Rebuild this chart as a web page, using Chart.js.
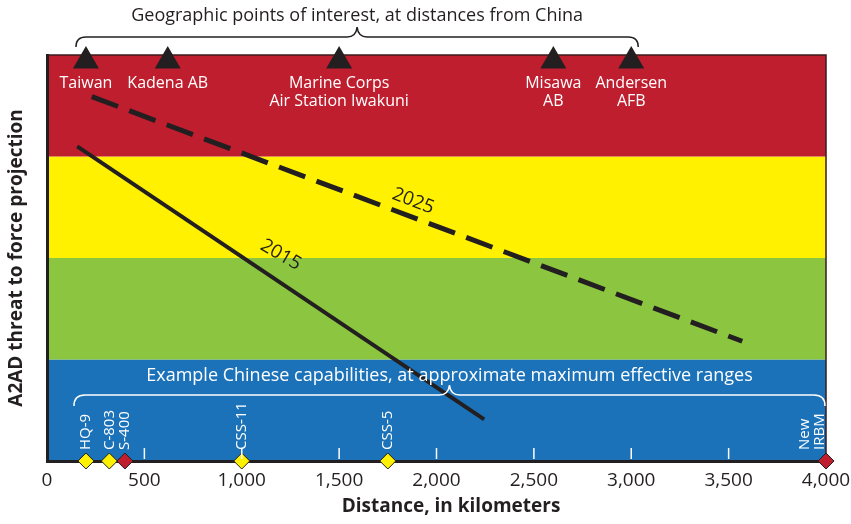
<!DOCTYPE html>
<html lang="en">
<head>
  <meta charset="UTF-8">
  <title>A2AD threat to force projection</title>
  <script src="https://cdn.jsdelivr.net/npm/chart.js"></script>
  <style>
    body { margin: 0; background: #fff; }
    .wrap { width: 851px; height: 524px; }
  </style>
</head>
<body>
  <div class="wrap"><canvas id="chart"></canvas></div>

  <script>
    // distances in km, threat level 0 (blue, low) .. 4 (red, high)
    const siteNames = ['Taiwan', 'Kadena AB', ['Marine Corps', 'Air Station Iwakuni'], ['Misawa', 'AB'], ['Andersen', 'AFB']];
    const siteKm = [200, 620, 1500, 2600, 3000];
    const weaponNames = ['HQ-9', 'C-803', 'S-400', 'CSS-11', 'CSS-5', ['New', 'IRBM']];
    const weaponKm = [200, 320, 400, 1000, 1750, 4000];
    const weaponIsNew = [false, false, true, false, false, true];
    const km2015 = [155, 2245];
    const threat2015 = [3.1, 0.41];
    const km2025 = [230, 3570];
    const threat2025 = [3.59, 1.18];
    const bandLevels = [0, 1, 2, 3, 4];

    const DARK = '#231f20';
    const FONT = "'Open Sans', sans-serif";
    const bandColors = ['#1b72b9', '#8cc640', '#fff100', '#bf1e2e'];

    function drawBrace(ctx, x0, x1, yLine, curl, peak) {
      const xm = (x0 + x1) / 2;
      ctx.beginPath();
      ctx.moveTo(x0, yLine + curl);
      ctx.quadraticCurveTo(x0, yLine, x0 + curl, yLine);
      ctx.lineTo(xm - peak, yLine);
      ctx.quadraticCurveTo(xm - 1, yLine, xm, yLine - peak);
      ctx.quadraticCurveTo(xm + 1, yLine, xm + peak, yLine);
      ctx.lineTo(x1 - curl, yLine);
      ctx.quadraticCurveTo(x1, yLine, x1, yLine + curl);
      ctx.stroke();
    }

    const overlay = {
      id: 'overlay',
      beforeDraw(chart) {
        const { ctx, chartArea: a, scales: { y } } = chart;
        for (let i = 0; i < 4; i++) {
          const top = y.getPixelForValue(bandLevels[i + 1]);
          const bot = y.getPixelForValue(bandLevels[i]);
          ctx.fillStyle = bandColors[i];
          ctx.fillRect(a.left, top, a.right - a.left, bot - top);
        }
        ctx.strokeStyle = '#3b1b1d';
        ctx.lineWidth = 1.5;
        ctx.strokeRect(a.left, a.top, a.right - a.left, a.bottom - a.top);
      },
      afterDraw(chart) {
        const { ctx, chartArea: a, scales: { x, y } } = chart;
        ctx.save();

        // small white ticks inside the plot
        ctx.strokeStyle = '#fff';
        ctx.lineWidth = 1.5;
        x.ticks.forEach(t => {
          if (t.value <= 0 || t.value >= 4000) return;
          const px = x.getPixelForValue(t.value);
          ctx.beginPath();
          ctx.moveTo(px, a.bottom - 13);
          ctx.lineTo(px, a.bottom - 2);
          ctx.stroke();
        });

        // top caption and brace
        ctx.fillStyle = DARK;
        ctx.strokeStyle = DARK;
        ctx.lineWidth = 1.5;
        ctx.font = '18px ' + FONT;
        ctx.textAlign = 'center';
        ctx.textBaseline = 'middle';
        const tx0 = x.getPixelForValue(siteKm[0]) - 10;
        const tx1 = x.getPixelForValue(siteKm[siteKm.length - 1]) + 7;
        ctx.fillText('Geographic points of interest, at distances from China', (tx0 + tx1) / 2, 16);
        drawBrace(ctx, tx0, tx1, 37, 10, 10);

        // site names
        ctx.fillStyle = '#fff';
        ctx.font = '16px ' + FONT;
        siteNames.forEach((name, i) => {
          const lines = [].concat(name);
          const px = x.getPixelForValue(siteKm[i]);
          lines.forEach((ln, j) => ctx.fillText(ln, px, 83 + j * 18));
        });

        // bottom caption and brace
        ctx.strokeStyle = '#fff';
        ctx.font = '18px ' + FONT;
        const bx0 = x.getPixelForValue(weaponKm[0]) - 12;
        const bx1 = a.right - 1;
        ctx.fillText('Example Chinese capabilities, at approximate maximum effective ranges', (bx0 + bx1) / 2, 376);
        drawBrace(ctx, bx0, bx1, 395, 11, 10);

        // weapon labels, rotated
        ctx.font = '15px ' + FONT;
        ctx.textAlign = 'left';
        weaponNames.forEach((name, i) => {
          const lines = [].concat(name);
          const n = lines.length;
          const px = x.getPixelForValue(weaponKm[i]);
          ctx.save();
          ctx.translate(px, a.bottom - 11);
          ctx.rotate(-Math.PI / 2);
          lines.forEach((ln, j) => {
            const off = n > 1 ? -6 - (n - 1 - j) * 15 : 0;
            ctx.fillText(ln, 0, off);
          });
          ctx.restore();
        });

        // line labels
        ctx.fillStyle = DARK;
        ctx.font = '19px ' + FONT;
        ctx.textAlign = 'center';
        [['2015', 1200, 2.03, 30], ['2025', 1880, 2.56, 21]].forEach(([txt, kx, ly, deg]) => {
          ctx.save();
          ctx.translate(x.getPixelForValue(kx), y.getPixelForValue(ly));
          ctx.rotate(deg * Math.PI / 180);
          ctx.fillText(txt, 0, 0);
          ctx.restore();
        });

        // axis titles
        ctx.font = 'bold 19px ' + FONT;
        ctx.fillText('Distance, in kilometers', 451, 507);
        ctx.save();
        ctx.translate(17, (a.top + a.bottom) / 2);
        ctx.rotate(-Math.PI / 2);
        ctx.fillText('A2AD threat to force projection', 0, 0);
        ctx.restore();

        ctx.restore();
      }
    };

    new Chart(document.getElementById('chart'), {
      type: 'scatter',
      data: {
        datasets: [
          {
            label: '2015',
            data: km2015.map((k, i) => ({ x: k, y: threat2015[i] })),
            showLine: true,
            borderColor: DARK,
            borderWidth: 4,
            pointRadius: 0
          },
          {
            label: '2025',
            data: km2025.map((k, i) => ({ x: k, y: threat2025[i] })),
            showLine: true,
            borderColor: DARK,
            borderWidth: 5,
            borderDash: [28, 12],
            pointRadius: 0
          },
          {
            label: 'Sites',
            data: siteKm.map(k => ({ x: k, y: 3.94 })),
            pointStyle: 'triangle',
            pointRadius: 15,
            backgroundColor: DARK,
            borderWidth: 0,
            clip: false
          },
          {
            label: 'Capabilities',
            data: weaponKm.map(k => ({ x: k, y: 0 })),
            pointStyle: 'rectRot',
            pointRadius: 8,
            backgroundColor: weaponIsNew.map(n => n ? '#bf1e2e' : '#fff100'),
            borderColor: DARK,
            borderWidth: 1,
            clip: false
          }
        ]
      },
      options: {
        responsive: true,
        maintainAspectRatio: false,
        animation: false,
        events: [],
        layout: { padding: { top: 55, right: 25, left: 0, bottom: 0 } },
        plugins: { legend: { display: false }, tooltip: { enabled: false } },
        scales: {
          x: {
            type: 'linear',
            min: 0,
            max: 4000,
            afterFit: s => { s.height = 63; s.paddingLeft = 0; s.paddingRight = 0; },
            grid: { display: false, drawTicks: false },
            border: { display: true, color: DARK, width: 3 },
            ticks: { stepSize: 500, padding: 8, color: DARK, font: { family: FONT, size: 19 }, maxRotation: 0 }
          },
          y: {
            min: 0,
            max: 4,
            afterFit: s => { s.width = 47; },
            grid: { display: false, drawTicks: false },
            border: { display: true, color: DARK, width: 3 },
            ticks: { display: false }
          }
        }
      },
      plugins: [overlay]
    });
  </script>
</body>
</html>
